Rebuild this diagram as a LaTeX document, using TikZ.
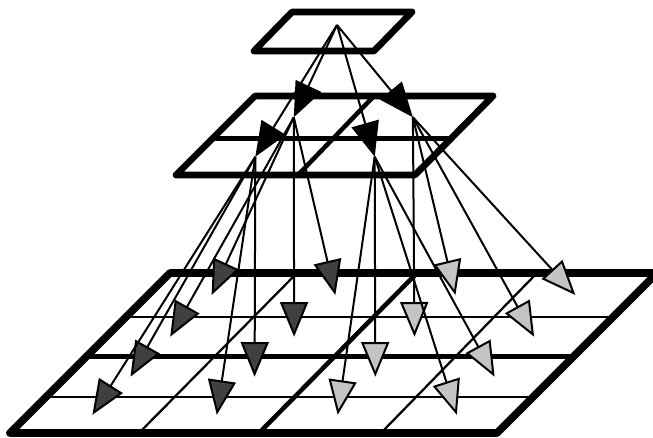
\documentclass[tikz,border=0pt]{standalone}
\usetikzlibrary{arrows.meta}
\definecolor{headdark}{HTML}{404040}
\definecolor{headlight}{HTML}{C4C4C4}
\tikzset{
  outer/.style={line width=5pt, line join=round, line cap=round},
  bigouter/.style={line width=5.8pt, line join=round, line cap=round},
  inner/.style={line width=3.4pt},
  fine/.style={line width=1.7pt},
  arrblack/.style={line width=1.5pt, -{Triangle[length=26pt,width=21pt,fill=black]}},
  arrdark/.style={line width=1.5pt, -{Triangle[length=26pt,width=21pt,fill=headdark]}},
  arrlight/.style={line width=1.5pt, -{Triangle[length=26pt,width=21pt,fill=headlight]}},
}
\begin{document}
\begin{tikzpicture}[x=0.75pt,y=-0.75pt]
\clip (0,0) rectangle (653,438);
\fill[white] (0,0) rectangle (653,438);

% ---------- bottom grid ----------
\coordinate (b0t) at (170,273); \coordinate (b0b) at (10,433);
\coordinate (b1t) at (297,273); \coordinate (b1b) at (139,433);
\coordinate (b2t) at (417,273); \coordinate (b2b) at (259,433);
\coordinate (b3t) at (537,273); \coordinate (b3b) at (381,433);
\coordinate (b4t) at (657,273); \coordinate (b4b) at (497,433);
% row lines (left point, right point)
\coordinate (r1l) at (126.3,316.7); \coordinate (r1r) at (613.3,316.7);
\coordinate (r2l) at (86.3,356.7);  \coordinate (r2r) at (573.3,356.7);
\coordinate (r3l) at (46.3,396.7);  \coordinate (r3r) at (533.3,396.7);
\draw[fine] (r1l) -- (r1r);
\draw[fine] (r3l) -- (r3r);
\draw[fine] (b1t) -- (b1b);
\draw[fine] (b3t) -- (b3b);
\draw[inner] (r2l) -- (r2r);
\draw[inner] (b2t) -- (b2b);
\draw[bigouter] (b0t) -- (b4t) -- (b4b) -- (b0b) -- cycle;

% ---------- middle grid ----------
\coordinate (mtl) at (255,96);  \coordinate (mtr) at (493,96);
\coordinate (mbr) at (415,175); \coordinate (mbl) at (176,175);
\coordinate (mdt) at (374,96);  \coordinate (mdb) at (298,175);
\coordinate (mhl) at (212.5,138.5); \coordinate (mhr) at (450,138.5);
\draw[inner] (mhl) -- (mhr);
\draw[inner] (mdt) -- (mdb);
\draw[outer] (mtl) -- (mtr) -- (mbr) -- (mbl) -- cycle;

% ---------- top cell ----------
\coordinate (ttl) at (292,12); \coordinate (ttr) at (412,12);
\coordinate (tbr) at (374,51); \coordinate (tbl) at (254,51);
\draw[outer] (ttl) -- (ttr) -- (tbr) -- (tbl) -- cycle;

% ---------- centres ----------
\coordinate (apex) at (337,25);
\coordinate (mA) at (293.8,117.3); % top-left
\coordinate (mB) at (412.9,117.3); % top-right
\coordinate (mC) at (255.3,156.8); % bottom-left
\coordinate (mD) at (374.7,156.8); % bottom-right

\coordinate (c11) at (211.6,295);   \coordinate (c12) at (335.3,295);
\coordinate (c13) at (455.4,295);   \coordinate (c14) at (575.3,295);
\coordinate (c21) at (170.2,336.7); \coordinate (c22) at (294.1,336.7);
\coordinate (c23) at (414.5,336.7); \coordinate (c24) at (534.1,336.7);
\coordinate (c31) at (130.5,376.7); \coordinate (c32) at (254.6,376.7);
\coordinate (c33) at (375.3,376.7); \coordinate (c34) at (494.6,376.7);
\coordinate (c41) at (92.4,414.8);  \coordinate (c42) at (216.8,414.8);
\coordinate (c43) at (337.7,414.8); \coordinate (c44) at (456.8,414.8);

% ---------- arrows ----------
\foreach \t in {c11,c12,c21,c22} \draw[arrdark] (mA) -- (\t);
\foreach \t in {c31,c32,c41,c42} \draw[arrdark] (mC) -- (\t);
\foreach \t in {c13,c14,c23,c24} \draw[arrlight] (mB) -- (\t);
\foreach \t in {c33,c34,c43,c44} \draw[arrlight] (mD) -- (\t);
\foreach \t in {mA,mB,mC,mD} \draw[arrblack] (apex) -- (\t);
\end{tikzpicture}
\end{document}
